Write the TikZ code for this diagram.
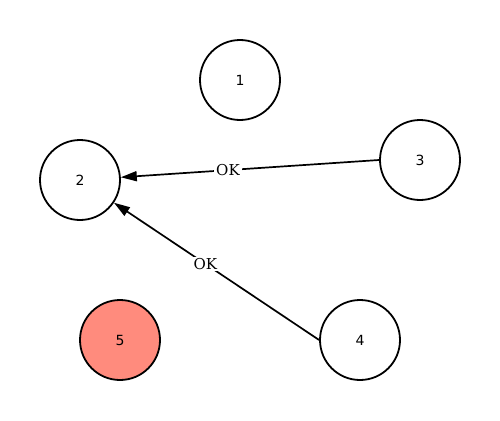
\documentclass[tikz,border=0pt]{standalone}
\usepackage{fontspec}
\setmainfont{DejaVu Serif}
\newfontfamily\nodefont{DejaVu Sans}
\usetikzlibrary{arrows.meta}
\definecolor{salmonfill}{RGB}{255,139,125}
\tikzset{
  vert/.style={circle, draw=black, line width=1.8pt, minimum size=80pt, inner sep=0pt, font=\nodefont\fontsize{14}{16}\selectfont},
  edge/.style={line width=1.7pt, -{Triangle[length=16pt,width=10pt]}},
  elabel/.style={fill=white, inner xsep=2pt, inner ysep=1pt, font=\fontsize{15}{17}\selectfont}
}
\begin{document}
\begin{tikzpicture}[x=1pt,y=-1pt]
\useasboundingbox (0,0) rectangle (500,420);
\node[vert] (n1) at (240,80) {1};
\node[vert] (n2) at (80,180) {2};
\node[vert] (n3) at (420,160) {3};
\node[vert] (n4) at (360,340) {4};
\node[vert, fill=salmonfill] (n5) at (120,340) {5};
\draw[edge] (n3.west) -- node[elabel, pos=0.585] (l1) {OK} (n2);
\draw[edge] (n4.west) -- node[elabel, pos=0.555] (l2) {OK} (n2);
\end{tikzpicture}
\end{document}
